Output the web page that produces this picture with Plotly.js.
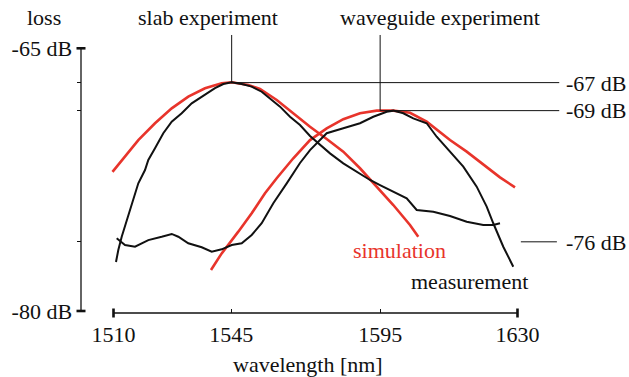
<!DOCTYPE html>
<html><head><meta charset="utf-8">
<script src="https://cdn.plot.ly/plotly-3.0.1.min.js"></script>
<style>html,body{margin:0;padding:0;background:#fff}#chart{width:629px;height:377px}</style>
</head><body><div id="chart"></div>
<script>
// ---- data ----
const slabSimWl = [1509.7, 1513.42, 1517.37, 1522.33, 1527.29, 1532.22, 1537.18, 1542.14, 1545.11, 1550.04, 1553.51, 1558.48, 1563.41, 1568.37, 1573.33, 1578.26, 1583.22, 1588.18, 1593.11, 1598.07, 1600.53];
const slabSimLoss = [-72.06, -71.19, -70.24, -69.28, -68.43, -67.76, -67.28, -67.00, -66.94, -67.10, -67.32, -67.95, -68.71, -69.48, -70.18, -70.90, -71.85, -72.90, -73.95, -75.09, -75.76];

const wgSimWl = [1538.96, 1542.14, 1547.07, 1551.05, 1555.0, 1558.48, 1563.41, 1568.37, 1573.33, 1578.26, 1583.22, 1588.18, 1593.11, 1598.07, 1603.03, 1609.95, 1614.91, 1619.84, 1624.8, 1629.26];
const wgSimLoss = [-77.66, -76.71, -75.47, -74.42, -73.28, -72.42, -71.28, -70.24, -69.57, -69.05, -68.71, -68.56, -68.56, -68.68, -69.19, -70.24, -70.90, -71.66, -72.37, -72.94];

const slabMeasWl = [1510.74, 1511.43, 1512.44, 1513.92, 1515.41, 1517.37, 1519.36, 1520.34, 1522.33, 1524.79, 1527.29, 1530.26, 1533.23, 1537.18, 1540.15, 1542.61, 1545.11, 1548.08, 1551.05, 1554.02, 1556.49, 1559.46, 1562.43, 1565.40, 1568.37, 1571.34, 1574.31, 1578.26, 1583.22, 1586.19, 1589.16, 1593.11, 1597.09, 1600.06, 1604.99, 1609.95, 1614.91, 1619.84, 1622.81, 1624.80];
const slabMeasLoss = [-77.20, -76.52, -75.76, -74.80, -73.85, -72.71, -71.95, -71.38, -70.71, -69.85, -69.19, -68.71, -68.14, -67.67, -67.28, -67.04, -66.94, -67.04, -67.19, -67.48, -67.86, -68.33, -68.91, -69.38, -70.01, -70.52, -71.00, -71.57, -72.14, -72.52, -72.81, -73.19, -73.57, -74.23, -74.33, -74.58, -74.90, -75.09, -75.09, -74.99];

const wgMeasWl = [1510.95, 1513.42, 1516.39, 1520.34, 1524.32, 1527.29, 1529.25, 1532.22, 1536.20, 1539.17, 1542.14, 1545.11, 1548.08, 1551.05, 1554.02, 1557.47, 1561.45, 1565.40, 1568.37, 1573.33, 1578.26, 1583.22, 1587.17, 1591.15, 1593.11, 1596.08, 1599.05, 1603.03, 1606.0, 1609.95, 1613.90, 1617.88, 1620.85, 1622.81, 1625.78, 1628.75];
const wgMeasLoss = [-75.85, -76.23, -76.33, -75.95, -75.76, -75.60, -75.76, -76.13, -76.36, -76.61, -76.48, -76.23, -76.13, -75.66, -74.99, -73.85, -72.71, -71.55, -70.81, -69.85, -69.57, -69.28, -68.91, -68.62, -68.56, -68.71, -69.00, -69.28, -70.05, -70.90, -71.76, -72.90, -74.04, -74.99, -76.33, -77.47];

const xTickVals = [1510, 1545, 1589.2, 1630];
const xTickText = ['1510', '1545', '1595', '1630'];
const yTickVals = [-65, -66.96, -68.56, -76.05, -80];
const yTickText = ['-65 dB', '', '', '', '-80 dB'];

const peakWl = [1545.1, 1589.2];
const peakLoss = [-66.96, -68.56];
const peakNames = ['slab experiment', 'waveguide experiment'];
const refLevels = [-66.96, -68.56, -76.05];
const refLabels = ['-67 dB', '-69 dB', '-76 dB'];

// ---- styling / layout ----
const W = 629, H = 377;
const M = {l: 70, r: 60, t: 28, b: 60};
const PW = W - M.l - M.r, PH = H - M.t - M.b;
const pX = p => (p - M.l) / PW;
const pY = p => (H - M.b - p) / PH;
const FONT = '"Liberation Serif", "Times New Roman", Times, serif';
const RED = '#e8342b', BLACK = '#111111';

const yAxisPos = pX(81);
const xAxisPos = pY(313);

const traces = [
  {x: slabSimWl, y: slabSimLoss, mode: 'lines', line: {color: RED, width: 2.6}},
  {x: wgSimWl, y: wgSimLoss, mode: 'lines', line: {color: RED, width: 2.6}},
  {x: slabMeasWl, y: slabMeasLoss, mode: 'lines', line: {color: BLACK, width: 2}},
  {x: wgMeasWl, y: wgMeasLoss, mode: 'lines', line: {color: BLACK, width: 2}}
].map(t => Object.assign(t, {type: 'scatter', showlegend: false, hoverinfo: 'skip'}));

const shapes = [];
const thin = {color: BLACK, width: 1};
shapes.push({type: 'line', xref: 'paper', yref: 'y', x0: yAxisPos, x1: yAxisPos, y0: yTickVals[0], y1: yTickVals[yTickVals.length - 1], line: {color: BLACK, width: 1.3}});
shapes.push({type: 'line', xref: 'x', yref: 'paper', x0: xTickVals[0], x1: xTickVals[xTickVals.length - 1], y0: xAxisPos, y1: xAxisPos, line: {color: BLACK, width: 1.3}});
[yTickVals[0], yTickVals[yTickVals.length - 1]].forEach(v => shapes.push({type: 'line', xref: 'paper', yref: 'y', x0: pX(76.5), x1: pX(85.5), y0: v, y1: v, line: {color: BLACK, width: 2.6}}));
[xTickVals[0], xTickVals[xTickVals.length - 1]].forEach(v => shapes.push({type: 'line', xref: 'x', yref: 'paper', x0: v, x1: v, y0: pY(317.5), y1: pY(308.5), line: {color: BLACK, width: 2.6}}));
const topLoss = -64.24, rightWl = 1642.4;
peakWl.forEach((w, i) => {
  shapes.push({type: 'line', xref: 'x', yref: 'y', x0: w, x1: w, y0: topLoss, y1: peakLoss[i], line: thin});
  shapes.push({type: 'line', xref: 'x', yref: 'y', x0: w, x1: rightWl, y0: peakLoss[i], y1: peakLoss[i], line: thin});
});
shapes.push({type: 'line', xref: 'x', yref: 'y', x0: 1631.0, x1: 1641.7, y0: refLevels[2], y1: refLevels[2], line: thin});

const ann = (text, x, y, xanchor, color) => ({text, xref: 'paper', yref: 'paper', x: pX(x), y: pY(y), xanchor, yanchor: 'middle', showarrow: false, font: {family: FONT, size: 22, color: color || BLACK}});
const annotations = [
  ann('loss', 44, 17.5, 'center'),
  ann(peakNames[0], 207.5, 17, 'center'),
  ann(peakNames[1], 439.5, 17, 'center'),
  ann(refLabels[0], 564, 83, 'left'),
  ann(refLabels[1], 564, 110.5, 'left'),
  ann(refLabels[2], 564, 242, 'left'),
  ann('simulation', 399.7, 250.5, 'center', RED),
  ann('measurement', 469.5, 281.5, 'center'),
  ann('wavelength [nm]', 307.5, 364, 'center')
];

const yRange = [-80.343, -63.841];
const layout = {
  width: W, height: H,
  margin: M,
  paper_bgcolor: '#fff', plot_bgcolor: '#fff',
  showlegend: false,
  font: {family: FONT, size: 22, color: BLACK},
  xaxis: {range: [1497.08, 1645.30], anchor: 'free', position: xAxisPos, showline: false, showgrid: false, zeroline: false,
          tickmode: 'array', tickvals: xTickVals, ticktext: xTickText, ticks: 'inside', ticklen: 4, tickwidth: 1.2, tickcolor: BLACK,
          ticklabelstandoff: 6,
          tickfont: {family: FONT, size: 22, color: BLACK}, fixedrange: true},
  yaxis: {range: yRange, anchor: 'free', position: yAxisPos, showline: false, showgrid: false, zeroline: false,
          tickmode: 'array', tickvals: yTickVals, ticktext: yTickText, ticks: 'outside', ticklen: 4.5, tickwidth: 1.2, tickcolor: BLACK,
          tickfont: {family: FONT, size: 22, color: BLACK}, fixedrange: true},
  yaxis2: {range: yRange, overlaying: 'y', anchor: 'free', position: yAxisPos, showline: false, showgrid: false, zeroline: false,
          tickmode: 'array', tickvals: yTickVals, ticks: 'inside', ticklen: 4.5, tickwidth: 1.2, tickcolor: BLACK, showticklabels: false, fixedrange: true},
  shapes, annotations
};
Plotly.newPlot('chart', traces, layout, {staticPlot: true, displayModeBar: false});
</script>
</body></html>
